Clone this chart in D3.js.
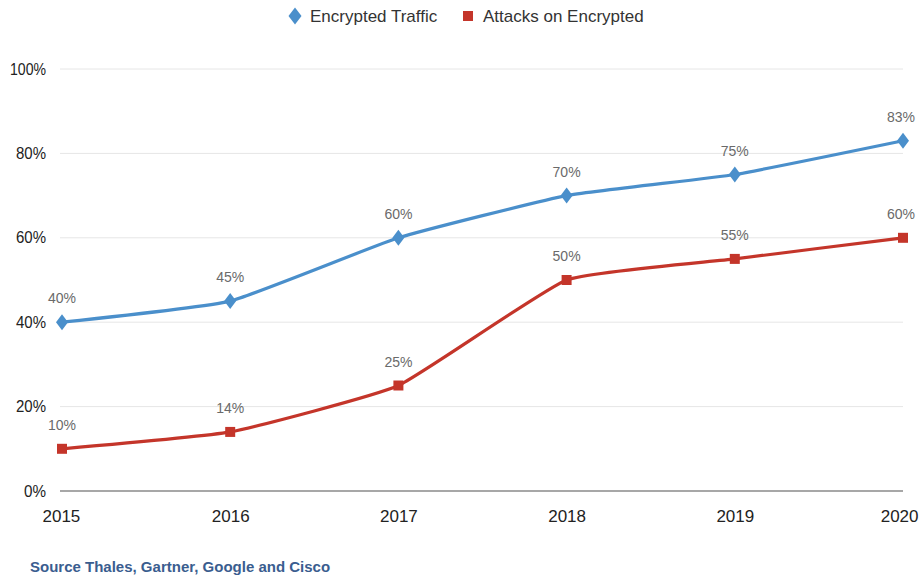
<!DOCTYPE html>
<html>
<head>
<meta charset="utf-8">
<script src="https://cdn.jsdelivr.net/npm/d3@7"></script>
<style>
  html, body { margin: 0; padding: 0; background: #fff; }
  svg { display: block; font-family: "Liberation Sans", Arial, sans-serif; }
</style>
</head>
<body>
<svg id="chart" width="924" height="584"></svg>
<script>
// Share of traffic that is encrypted vs. attacks hiding in encrypted traffic
const years = [2015, 2016, 2017, 2018, 2019, 2020];
const encryptedTraffic = [40, 45, 60, 70, 75, 83];
const attacksOnEncrypted = [10, 14, 25, 50, 55, 60];
const yTicks = [0, 20, 40, 60, 80, 100];
const seriesNames = ["Encrypted Traffic", "Attacks on Encrypted"];
const sourceNote = "Source Thales, Gartner, Google and Cisco";

const svg = d3.select("#chart");
const margin = { left: 62, right: 21, top: 69, bottom: 93 };
const W = 924, H = 584;

const x = d3.scalePoint().domain(years).range([margin.left, W - margin.right]);
const y = d3.scaleLinear().domain([0, 100]).range([H - margin.bottom, margin.top]);

// Marker shapes
const diamond = (w, h) => `M0,${-h / 2}L${w / 2},0L0,${h / 2}L${-w / 2},0Z`;
const square = s => `M${-s / 2},${-s / 2}h${s}v${s}h${-s}Z`;

// Horizontal gridlines
svg.append("g").selectAll("line").data(yTicks).join("line")
  .attr("x1", margin.left - 2).attr("x2", W - margin.right)
  .attr("y1", d => y(d)).attr("y2", d => y(d))
  .attr("stroke", d => d === 0 ? "#8a8a8a" : "#e6e6e6")
  .attr("stroke-width", d => d === 0 ? 1.5 : 1);

// Y axis labels
const yAxis = d3.axisLeft(y).tickValues(yTicks).tickFormat(d => d + "%").tickSize(0).tickPadding(0);
const gy = svg.append("g").attr("transform", `translate(${margin.left - 16},0)`).call(yAxis);
gy.select(".domain").remove();
gy.selectAll("text").attr("font-size", 16).attr("fill", "#222")
  .attr("font-family", "'Liberation Sans', Arial, sans-serif")
  .attr("textLength", d => d === 100 ? 36 : (d === 0 ? 22 : 30))
  .attr("lengthAdjust", "spacingAndGlyphs");

// X axis labels
const xAxis = d3.axisBottom(x).tickSize(0).tickPadding(0);
const gx = svg.append("g").attr("transform", `translate(0,${H - margin.bottom + 19})`).call(xAxis);
gx.select(".domain").remove();
gx.selectAll("text").attr("font-size", 17).attr("fill", "#222")
  .attr("font-family", "'Liberation Sans', Arial, sans-serif")
  .attr("text-anchor", (d, i) => i === 0 ? "start" : (i === years.length - 1 ? "end" : "middle"))
  .attr("dx", (d, i) => i === 0 ? -20 : (i === years.length - 1 ? 15 : 0));

const series = [
  { name: seriesNames[0], values: encryptedTraffic, color: "#4a8fcb", marker: diamond(12, 16), legendMarker: diamond(13, 17) },
  { name: seriesNames[1], values: attacksOnEncrypted, color: "#c4352a", marker: square(10), legendMarker: square(10) }
];

const line = d3.line().x((d, i) => x(years[i])).y(d => y(d)).curve(d3.curveCardinal.tension(0.6));

series.forEach(s => {
  const g = svg.append("g");
  g.append("path").datum(s.values).attr("d", line)
    .attr("fill", "none").attr("stroke", s.color).attr("stroke-width", 3.2);
  g.selectAll("path.mark").data(s.values).join("path").attr("class", "mark")
    .attr("d", s.marker)
    .attr("transform", (d, i) => `translate(${x(years[i])},${y(d)})`)
    .attr("fill", s.color);
  g.selectAll("text").data(s.values).join("text")
    .attr("x", (d, i) => x(years[i]) + (i === years.length - 1 ? -2 : 0))
    .attr("y", d => y(d) - 19)
    .attr("text-anchor", "middle")
    .attr("font-size", 14).attr("fill", "#6a6a6a")
    .text(d => d + "%");
});

// Legend
const legend = svg.append("g");
const legendItems = [
  { sx: 295, tx: 310 },
  { sx: 468, tx: 483 }
];
series.forEach((s, i) => {
  legend.append("path")
    .attr("d", s.legendMarker)
    .attr("transform", `translate(${legendItems[i].sx},16)`)
    .attr("fill", s.color);
  legend.append("text")
    .attr("x", legendItems[i].tx).attr("y", 22)
    .attr("font-size", 17).attr("fill", "#333")
    .text(s.name);
});

// Source note
svg.append("text")
  .attr("x", 30).attr("y", 572)
  .attr("font-size", 15).attr("font-weight", "bold").attr("fill", "#3a5d8f")
  .text(sourceNote);
</script>
</body>
</html>
